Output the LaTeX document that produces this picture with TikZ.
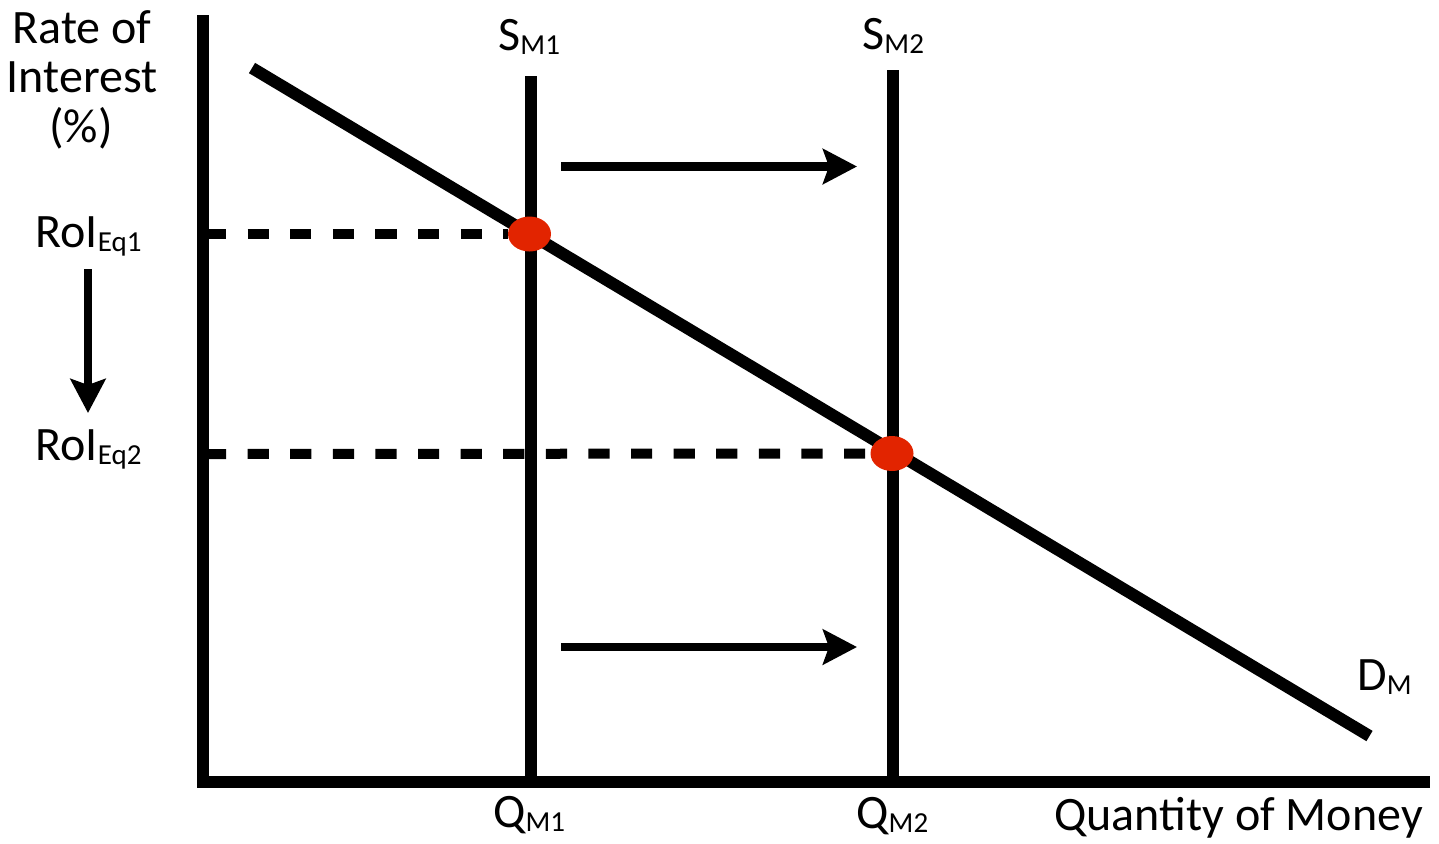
\documentclass[tikz,border=0pt]{standalone}
\usepackage{fontspec}
\setmainfont{Carlito}
\usetikzlibrary{arrows.meta,shapes.geometric}
\definecolor{dotred}{RGB}{226,36,0}
\newcommand{\msub}[1]{\raisebox{-2.3pt}{\fontsize{14.5}{14.5}\selectfont #1}}
\begin{document}
\begin{tikzpicture}[x=0.5pt,y=-0.5pt,
  lbl/.style={font=\fontsize{24}{24.75}\selectfont, inner sep=0pt, anchor=base west},
  lblc/.style={font=\fontsize{24}{24.75}\selectfont, inner sep=0pt, anchor=base},
  axis/.style={line width=6pt, line join=miter},
  supply/.style={line width=6pt},
  demand/.style={line width=6pt},
  guide/.style={line width=5pt, dash pattern=on 10.6pt off 10.7pt},
  shiftarrow/.style={line width=4.25pt, -{Stealth[length=17pt,width=17.5pt,inset=3pt]}},
  eq/.style={ellipse, fill=dotred, minimum width=21.5pt, minimum height=17.5pt, inner sep=0pt}]
\useasboundingbox (0,0) rectangle (1439,843);
% coordinates
\coordinate (ytop) at (203,15);
\coordinate (origin) at (203,781.5);
\coordinate (xend) at (1430,781.5);
\coordinate (s1top) at (530.5,76);
\coordinate (s1bot) at (530.5,781.5);
\coordinate (s2top) at (893,70);
\coordinate (s2bot) at (893,781.5);
\coordinate (dtop) at (252,68);
\coordinate (dbot) at (1369.5,736);
\coordinate (r1) at (205,234);
\coordinate (r2) at (205,454);
\coordinate (a1s) at (561,166.5);
\coordinate (a1e) at (857,166.5);
\coordinate (a2s) at (561,647);
\coordinate (a2e) at (857,647);
\coordinate (a3s) at (88,269);
\coordinate (a3e) at (88,413);
% axes
\draw[axis] (ytop) -- (origin) -- (xend);
% supply curves
\draw[supply] (s1top) -- (s1bot);
\draw[supply] (s2top) -- (s2bot);
% demand curve
\draw[demand] (dtop) -- (dbot);
% equilibria
\node[eq] (eq1) at (529.5,234) {};
\node[eq] (eq2) at (892,453.5) {};
% guides
\draw[guide] (r1) -- (eq1.west);
\draw[guide] (r2) -- (eq2.west);
% shift arrows
\draw[shiftarrow] (a1s) -- (a1e);
\draw[shiftarrow] (a2s) -- (a2e);
\draw[shiftarrow] (a3s) -- (a3e);
% labels
\node[lblc] (yl1) at (82,43) {Rate of};
\node[lblc] (yl2) at (82,92) {Interest};
\node[lblc] (yl3) at (81,142) {(\%)};
\node[lbl] (roi1) at (35,247) {RoI\msub{Eq1}};
\node[lbl] (roi2) at (35,460) {RoI\msub{Eq2}};
\node[lbl] (sm1) at (498,50) {S\msub{M1}};
\node[lbl] (sm2) at (862,49) {S\msub{M2}};
\node[lbl] (qm1) at (493,827) {Q\msub{M1}};
\node[lbl] (qm2) at (856,828) {Q\msub{M2}};
\node[lbl] (xl) at (1054,830) {Quantity of Money};
\node[lbl] (dm) at (1357,690) {D\msub{M}};
\end{tikzpicture}
\end{document}
